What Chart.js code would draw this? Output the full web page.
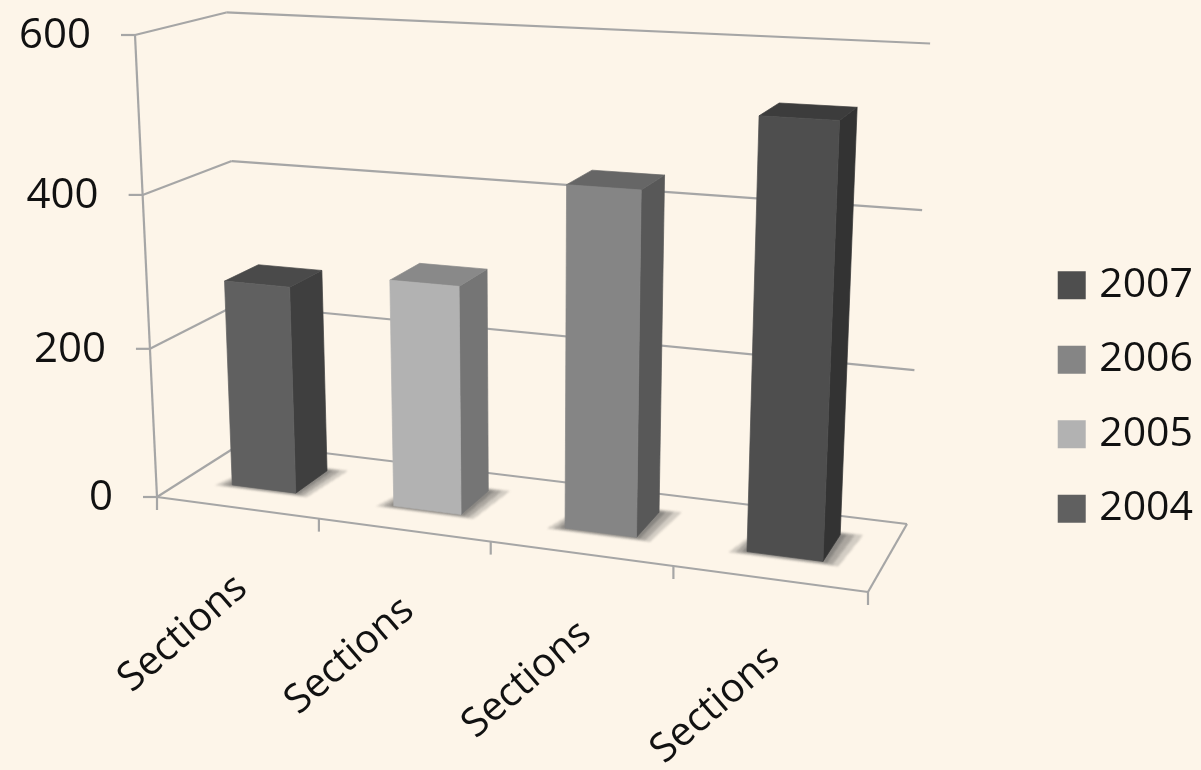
<!DOCTYPE html>
<html>
<head>
<meta charset="utf-8">
<title>Sections</title>
<script src="https://cdn.jsdelivr.net/npm/chart.js@4"></script>
<style>
  html, body { margin: 0; padding: 0; background: #fdf5e9; }
  canvas { display: block; }
</style>
</head>
<body>
<canvas id="sectionsChart" width="1201" height="770"></canvas>
<script>
const categories = ["Sections", "Sections", "Sections", "Sections"];
const yTicks = { max: 600, step: 200 };

const values2004 = [277, null, null, null];
const values2005 = [null, 298, null, null];
const values2006 = [null, null, 435, null];
const values2007 = [null, null, null, 531];

const color2004 = "#606060";
const color2005 = "#b2b2b2";
const color2006 = "#858585";
const color2007 = "#4e4e4e";

const lineColor = "#a6a6a6";
const textColor = "#111111";
const fontName = "'Open Sans'";

// where the box of the 3d chart lands on the page
const floorFrontLeft = [157, 497];
const floorFrontRight = [868, 592];
const floorBackRight = [907, 524];
const floorBackLeft = [242, 443];
const wallTopFront = [135, 35];
const heightPerspective = -0.0556;

// how far the bars sit between the front and back edge of the floor
const barFront = 0.32;
const barBack = 0.72;

// square to quad for the floor, height is added on top of it
function makeProjection() {
  const [x0, y0] = floorFrontLeft;
  const [x1, y1] = floorFrontRight;
  const [x2, y2] = floorBackRight;
  const [x3, y3] = floorBackLeft;
  const sx = x0 - x1 + x2 - x3;
  const sy = y0 - y1 + y2 - y3;
  const dx1 = x1 - x2;
  const dx2 = x3 - x2;
  const dy1 = y1 - y2;
  const dy2 = y3 - y2;
  const den = dx1 * dy2 - dx2 * dy1;
  const g = (sx * dy2 - dx2 * sy) / den;
  const h = (dx1 * sy - sx * dy1) / den;
  const ax = x1 - x0 + g * x1;
  const bx = x3 - x0 + h * x3;
  const ay = y1 - y0 + g * y1;
  const by = y3 - y0 + h * y3;
  const hx = wallTopFront[0] * (1 + heightPerspective) - x0;
  const hy = wallTopFront[1] * (1 + heightPerspective) - y0;
  return (u, v, d) => {
    const w = g * u + h * d + heightPerspective * v + 1;
    return [(ax * u + bx * d + hx * v + x0) / w, (ay * u + by * d + hy * v + y0) / w];
  };
}
const project = makeProjection();

function shade(hex, factor) {
  const n = parseInt(hex.slice(1), 16);
  const c = [n >> 16, (n >> 8) & 255, n & 255].map(v => Math.round(v * factor));
  return `rgb(${c[0]},${c[1]},${c[2]})`;
}

function polygon(ctx, points, fill) {
  ctx.beginPath();
  points.forEach((p, i) => (i ? ctx.lineTo(p[0], p[1]) : ctx.moveTo(p[0], p[1])));
  ctx.closePath();
  ctx.fillStyle = fill;
  ctx.fill();
  // same colour outline closes the hairline between two faces
  ctx.strokeStyle = fill;
  ctx.lineWidth = 0.7;
  ctx.stroke();
}

function line(ctx, a, b) {
  ctx.beginPath();
  ctx.moveTo(a[0], a[1]);
  ctx.lineTo(b[0], b[1]);
  ctx.stroke();
}

function stipple(ctx) {
  const tile = document.createElement("canvas");
  tile.width = 2;
  tile.height = 2;
  const t = tile.getContext("2d");
  t.fillStyle = "#444444";
  t.fillRect(0, 0, 1, 1);
  t.fillRect(1, 1, 1, 1);
  return ctx.createPattern(tile, "repeat");
}

// walls, floor and axis ticks
function drawFrame(chart) {
  const { ctx, scales } = chart;
  const yScale = scales.y;
  const xScale = scales.x;
  ctx.save();
  ctx.strokeStyle = lineColor;
  ctx.lineWidth = 2.2;

  yScale.ticks.forEach(tick => {
    const v = tick.value / yScale.max;
    const front = project(0, v, 0);
    line(ctx, front, project(0, v, 1));
    line(ctx, project(0, v, 1), project(1, v, 1));
    line(ctx, [front[0] - 14, front[1]], front);
  });
  line(ctx, project(0, 0, 0), project(0, 1, 0));
  line(ctx, project(0, 0, 0), project(1, 0, 0));
  line(ctx, project(1, 0, 0), project(1, 0, 1));

  // category ticks hang below the front edge of the floor
  for (let i = 0; i <= categories.length; i++) {
    const p = project(i / categories.length, 0, 0);
    line(ctx, p, [p[0], p[1] + 13]);
  }

  ctx.fillStyle = textColor;
  ctx.font = `42px ${fontName}`;
  ctx.textAlign = "right";
  ctx.textBaseline = "middle";
  yScale.ticks.forEach(tick => {
    const p = project(0, tick.value / yScale.max, 0);
    ctx.fillText(String(tick.value), p[0] - 44, p[1] + 1);
  });

  ctx.font = `40px ${fontName}`;
  categories.forEach((label, i) => {
    const x = xScale.getPixelForValue(i);
    const p = project((x - chart.chartArea.left) / chart.chartArea.width, 0, 0);
    ctx.save();
    ctx.translate(p[0] + 5, p[1] + 75);
    ctx.rotate(-41 * Math.PI / 180);
    ctx.fillText(label, 0, 0);
    ctx.restore();
  });
  ctx.restore();
}

function drawBar(chart, bar, color) {
  const { ctx, chartArea, scales } = chart;
  const uLeft = (bar.x - bar.width / 2 - chartArea.left) / chartArea.width;
  const uRight = (bar.x + bar.width / 2 - chartArea.left) / chartArea.width;
  const top = (scales.y.bottom - bar.y) / scales.y.height;

  // soft stippled shadow on the floor
  ctx.save();
  ctx.filter = "blur(0.8px)";
  const pattern = stipple(ctx);
  [[0.022, 0.04, 0.45], [0.014, 0.026, 0.55], [0.006, 0.012, 0.65]].forEach(([du, dd, alpha]) => {
    ctx.globalAlpha = alpha;
    ctx.beginPath();
    [
      project(uLeft - du, 0, barFront - dd),
      project(uRight + du, 0, barFront - dd),
      project(uRight + du * 1.3, 0, barBack + dd),
      project(uLeft, 0, barBack + dd)
    ].forEach((p, i) => (i ? ctx.lineTo(p[0], p[1]) : ctx.moveTo(p[0], p[1])));
    ctx.closePath();
    ctx.fillStyle = pattern;
    ctx.fill();
  });
  ctx.restore();

  const fl = project(uLeft, top, barFront);
  const fr = project(uRight, top, barFront);
  const bl = project(uLeft, top, barBack);
  const br = project(uRight, top, barBack);
  const fl0 = project(uLeft, 0, barFront);
  const fr0 = project(uRight, 0, barFront);
  const br0 = project(uRight, 0, barBack);

  polygon(ctx, [fr, br, br0, fr0], shade(color, 0.66));
  polygon(ctx, [fl, bl, br, fr], shade(color, 0.77));
  polygon(ctx, [fl, fr, fr0, fl0], color);
}

const bars3d = {
  id: "bars3d",
  beforeDatasetsDraw(chart) {
    drawFrame(chart);
    chart.data.datasets.forEach((dataset, di) => {
      const meta = chart.getDatasetMeta(di);
      dataset.data.forEach((value, i) => {
        if (value !== null) drawBar(chart, meta.data[i], dataset.backgroundColor);
      });
    });
    return false; // flat bars are replaced by the 3d ones
  }
};

new Chart(document.getElementById("sectionsChart"), {
  type: "bar",
  data: {
    labels: categories,
    datasets: [
      { label: "2004", data: values2004, backgroundColor: color2004 },
      { label: "2005", data: values2005, backgroundColor: color2005 },
      { label: "2006", data: values2006, backgroundColor: color2006 },
      { label: "2007", data: values2007, backgroundColor: color2007 }
    ]
  },
  options: {
    responsive: false,
    animation: false,
    categoryPercentage: 1,
    barPercentage: 0.4,
    layout: { padding: { top: 24, right: -2 } },
    scales: {
      x: { stacked: true, display: false },
      y: { stacked: true, display: false, min: 0, max: yTicks.max, ticks: { stepSize: yTicks.step } }
    },
    plugins: {
      tooltip: { enabled: false },
      legend: {
        position: "right",
        reverse: true,
        labels: {
          usePointStyle: true,
          pointStyle: "rect",
          boxWidth: 14,
          boxHeight: 28,
          padding: 33.5,
          color: textColor,
          font: { family: "Open Sans", size: 41 }
        }
      }
    }
  },
  plugins: [bars3d]
});
</script>
</body>
</html>
